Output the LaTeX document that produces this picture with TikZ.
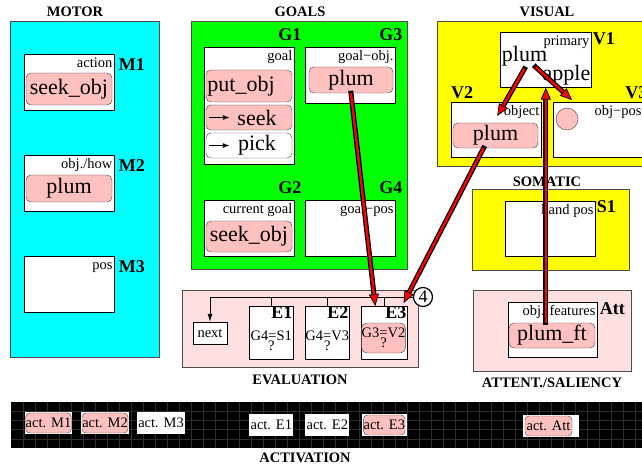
\documentclass[tikz,border=0pt]{standalone}
\usepackage{fontspec}
\setmainfont{Liberation Serif}
\usetikzlibrary{arrows.meta,positioning,calc}
\definecolor{chippink}{HTML}{FFC0C0}
\definecolor{evalpink}{HTML}{FFE0E0}
\definecolor{motorcyan}{RGB}{0,255,255}
\definecolor{goalgreen}{RGB}{0,255,0}
\definecolor{senseyellow}{RGB}{255,255,0}

\begin{document}
\begin{tikzpicture}[x=1pt, y=-1pt,
  region/.style={draw=black!70, line width=0.6pt, fill=#1, anchor=north west, inner sep=0pt},
  slot/.style={draw, fill=white, line width=0.6pt, anchor=north west, minimum width=90pt, minimum height=56pt, inner sep=0pt},
  chip/.style={draw=black!75, fill=chippink, rounded corners=5pt, minimum width=86pt, minimum height=#1, inner sep=0pt, font=\fontsize{22}{22}\selectfont},
  chip/.default=27pt,
  slotcap/.style={anchor=north east, inner sep=2pt, text height=11pt, text depth=3pt, font=\fontsize{14.5}{15}\selectfont},
  tag/.style={font=\bfseries\fontsize{18}{18}\selectfont, inner sep=0pt},
  head/.style={font=\bfseries\fontsize{14.5}{15}\selectfont, inner sep=0pt},
  test/.style={align=center, inner sep=0pt, font=\fontsize{14.5}{10}\selectfont},
  pointer/.style={line width=1.2pt, -{Latex[length=7pt,width=5pt]}},
  bus/.style={line width=0.8pt},
  wire/.style={line width=5pt, black, line cap=rect, shorten >=9pt},
  wirecore/.style={line width=2.4pt, red, -{Triangle[length=12pt,width=10pt,color=black,fill=red,line width=0.7pt]}},
  actslot/.style={fill=white, minimum height=22pt, inner sep=0pt, font=\fontsize{14.5}{15}\selectfont},
  actchip/.style={draw=black!75, fill=chippink, rounded corners=4pt, minimum width=45pt, minimum height=20pt, inner sep=0pt, font=\fontsize{14.5}{15}\selectfont},
  barline/.style={black!82, line width=0.3pt}
]
  \useasboundingbox (0,0) rectangle (642,470);

  % regions
  \node[region=motorcyan, minimum width=149pt, minimum height=336pt] (motor) at (10,21) {};
  \node[region=goalgreen, minimum width=216pt, minimum height=248pt] (goals) at (191,21) {};
  \node[region=senseyellow, minimum width=220pt, minimum height=145pt] (visual) at (437,21) {};
  \node[region=senseyellow, minimum width=157pt, minimum height=81pt] (somatic) at (472,189) {};
  \node[region=evalpink, minimum width=236pt, minimum height=77pt] (eval) at (182,290) {};
  \node[region=evalpink, minimum width=158pt, minimum height=81pt] (attent) at (473,290) {};

  \node[head] (motorhead) at (75,12) {MOTOR};
  \node[head] (goalshead) at (300,12) {GOALS};
  \node[head] (visualhead) at (547,12) {VISUAL};
  \node[head] (somatichead) at (547,182) {SOMATIC};
  \node[head] (evalhead) at (300,380) {EVALUATION};
  \node[head] (attenthead) at (552,383) {ATTENT./SALIENCY};
  \node[head] (acthead) at (305,458) {ACTIVATION};

  % motor
  \node[slot] (m1) at (24,54) {};
  \node[slot] (m2) at (24,155) {};
  \node[slot] (m3) at (24,256) {};
  \node[slotcap] (m1cap) at (m1.north east) {action};
  \node[slotcap] (m2cap) at (m2.north east) {obj./how};
  \node[slotcap] (m3cap) at (m3.north east) {pos};
  \node[tag, anchor=base west] (m1tag) at ($(m1.north east)+(4,16.5)$) {M1};
  \node[tag, anchor=base west] (m2tag) at ($(m2.north east)+(4,16.5)$) {M2};
  \node[tag, anchor=base west] (m3tag) at ($(m3.north east)+(4,16.5)$) {M3};
  \node[chip=32pt] (m1obj) at (69,89) {seek\_obj};
  \node[chip] (m2obj) at (69,188.5) {plum};

  % goals
  \node[slot, minimum height=117pt] (g1) at (204,47) {};
  \node[slot] (g3) at (305,47) {};
  \node[slot] (g2) at (204,200) {};
  \node[slot] (g4) at (305,200) {};
  \node[slotcap] (g1cap) at (g1.north east) {goal};
  \node[slotcap] (g3cap) at (g3.north east) {goal−obj.};
  \node[slotcap] (g2cap) at (g2.north east) {current goal};
  \node[slotcap] (g4cap) at (g4.north east) {goal−pos};
  \node[tag, anchor=base east] (g1tag) at ($(g1.north east)+(7,-6)$) {G1};
  \node[tag, anchor=base east] (g3tag) at ($(g3.north east)+(7,-6)$) {G3};
  \node[tag, anchor=base east] (g2tag) at ($(g2.north east)+(7,-6)$) {G2};
  \node[tag, anchor=base east] (g4tag) at ($(g4.north east)+(7,-6)$) {G4};
  \node[chip=32pt] (g1put) at (249,86) {put\_obj\hspace*{16pt}};
  \node[chip=25pt] (g1seek) at (249,117.5) {\hspace*{16pt}seek};
  \node[chip=25pt, fill=white] (g1pick) at (249,145.5) {\hspace*{16pt}pick};
  \draw[pointer] ($(g1seek.west)+(3,0)$) -- ++(21,0);
  \draw[pointer] ($(g1pick.west)+(3,0)$) -- ++(21,0);
  \node[chip=26pt, minimum width=84pt] (g3obj) at (351,80) {plum};
  \node[chip=31pt] (g2obj) at (249,236.5) {seek\_obj};

  % visual
  \node[slot, minimum width=91pt, minimum height=55pt] (v1) at (500,32) {};
  \node[slot, minimum height=55pt] (v2) at (451,102) {};
  \node[slot, minimum height=55pt] (v3) at (553,102) {};
  \node[slotcap] (v1cap) at (v1.north east) {primary};
  \node[slotcap] (v2cap) at (v2.north east) {object};
  \node[slotcap] (v3cap) at (v3.north east) {obj−pos};
  \node[tag, anchor=base west] (v1tag) at ($(v1.north east)+(1,13)$) {V1};
  \node[tag, anchor=base west] (v2tag) at ($(v2.north west)+(0,-3)$) {V2};
  \node[tag, anchor=base east] (v3tag) at ($(v3.north east)+(4,-3)$) {V3};
  \node[anchor=base, inner sep=0pt, font=\fontsize{22}{22}\selectfont] (v1plum) at (524.5,62) {plum};
  \node[anchor=base, inner sep=0pt, font=\fontsize{22}{22}\selectfont] (v1apple) at (566.5,81) {apple};
  \node[chip=25pt, minimum width=85pt] (v2obj) at (495.5,135.5) {plum};
  \node[draw=black!75, fill=chippink, circle, minimum size=22pt, inner sep=0pt] (v3obj) at (567,119) {};

  % somatic
  \node[slot, minimum height=55pt] (s1) at (505,201) {};
  \node[slotcap] (s1cap) at (s1.north east) {hand pos};
  \node[tag, anchor=base west] (s1tag) at ($(s1.north east)+(1,12)$) {S1};

  % attention
  \node[slot, minimum width=89pt, minimum height=55pt] (att) at (508,302) {};
  \node[slotcap] (attcap) at (att.north east) {obj. features};
  \node[tag, anchor=base west] (atttag) at ($(att.north east)+(2,12)$) {Att};
  \node[chip=25pt] (attobj) at (552,335.5) {plum\_ft};

  % evaluation
  \node[draw, fill=white, minimum width=34pt, minimum height=22pt, inner sep=0pt, font=\fontsize{14.5}{15}\selectfont] (next) at (210,333) {next};
  \node[slot, minimum width=44pt, minimum height=53pt] (e1) at (249,306) {};
  \node[slot, minimum width=44pt, minimum height=53pt] (e2) at (305,306) {};
  \node[slot, minimum width=46pt, minimum height=53pt] (e3) at (361,306) {};
  \node[tag, anchor=base east] (e1tag) at ($(e1.north east)+(-1,12)$) {E1};
  \node[tag, anchor=base east] (e2tag) at ($(e2.north east)+(-1,12)$) {E2};
  \node[tag, anchor=base east] (e3tag) at ($(e3.north east)+(-1,12)$) {E3};
  \node[test] (e1test) at ($(e1.north)+(0,35)$) {G4=S1\\?};
  \node[test] (e2test) at ($(e2.north)+(0,35)$) {G4=V3\\?};
  \node[chip=30pt, minimum width=41pt, align=center, font=\fontsize{14.5}{10}\selectfont] (e3obj) at (383.5,338) {G3=V2\\?};
  \node[draw, circle, fill=white, line width=1.2pt, minimum size=19pt, inner sep=0pt, font=\fontsize{18}{18}\selectfont] (four) at (423,297) {4};
  \draw[bus, -{Latex[length=8pt,width=5pt]}] (four.west) -| (next.north);
  \draw[bus] (e1.north) -- (e1.north |- four.west);
  \draw[bus] (e2.north) -- (e2.north |- four.west);
  \draw[bus] (e3.north) -- (e3.north |- four.west);

  % activation bar
  \fill[black] (11,402) rectangle (660,448);
  \foreach \x in {23,35,...,647} \draw[barline] (\x,402) -- (\x,448);
  \foreach \y in {411,420,429,439} \draw[barline] (11,\y) -- (660,\y);
  \node[actslot, minimum width=47pt] (actm1) at (48.5,423) {};
  \node[actchip] (actm1c) at (48.5,423) {act. M1};
  \node[actslot, minimum width=48pt] (actm2) at (105,423) {};
  \node[actchip, minimum width=46pt] (actm2c) at (105,423) {act. M2};
  \node[actslot, minimum width=48pt] (actm3) at (161,423) {act. M3};
  \node[actslot, minimum width=44pt] (acte1) at (e1.center |- 0,425) {act. E1};
  \node[actslot, minimum width=44pt] (acte2) at (e2.center |- 0,425) {act. E2};
  \node[actslot, minimum width=45pt] (acte3) at (e3.center |- 0,425) {};
  \node[actchip, minimum width=41pt] (acte3c) at (acte3) {act. E3};
  \node[actslot, minimum width=56pt] (actatt) at (551,426) {};
  \node[actchip, minimum width=47pt] (actattc) at (548.5,426) {act. Att};

  % red links
  \coordinate (w1a) at (g3obj.south);
  \coordinate (w1b) at ($(e3.north)+(-9,0)$);
  \coordinate (w2a) at ($(v2obj.south)+(-12,0)$);
  \coordinate (w2b) at ($(e3.north east)+(-4,-3)$);
  \coordinate (w3a) at (v1.south |- attobj.north);
  \coordinate (w3b) at (v1.south);
  \coordinate (w4a) at ($(v1plum.south)+(0,2)$);
  \coordinate (w4b) at ($(v2.north)+(1,14)$);
  \coordinate (w5a) at ($(v1plum.south)+(11,0)$);
  \coordinate (w5b) at ($(v3.north west)+(19,-2)$);
  \foreach \a/\b in {w1a/w1b, w2a/w2b, w3a/w3b, w4a/w4b, w5a/w5b}{
    \draw[wire] (\a) -- (\b);
    \draw[wirecore] (\a) -- (\b);
  }
\end{tikzpicture}
\end{document}
